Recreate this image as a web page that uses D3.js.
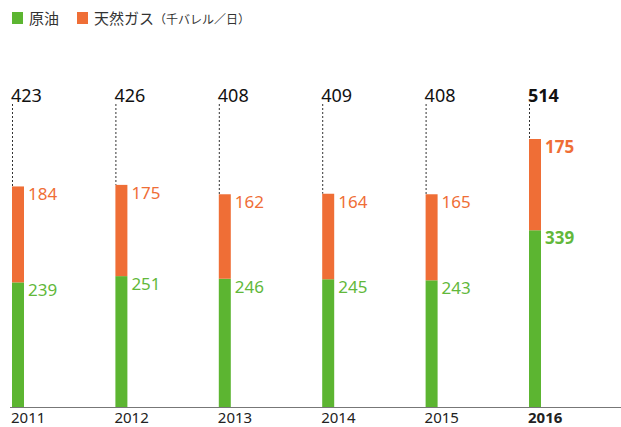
<!DOCTYPE html>
<html>
<head>
<meta charset="utf-8">
<script src="https://d3js.org/d3.v7.min.js"></script>
<style>
  body { margin: 0; background: #fff; }
  svg { display: block; }
</style>
</head>
<body>
<svg></svg>
<script>
// 年ごとの生産量（千バレル／日）
const years = ['2011', '2012', '2013', '2014', '2015', '2016'];
const oil = [239, 251, 246, 245, 243, 339];
const gas = [184, 175, 162, 164, 165, 175];
const totals = [423, 426, 408, 409, 408, 514];
const legendNames = ['原油', '天然ガス'];

const width = 621;
const height = 427;
const base = 407;
const green = '#5cb531';
const orange = '#ef6e36';
const numFont = '"Noto Sans", sans-serif';

const svg = d3.select('svg').attr('width', width).attr('height', height);

const x = d3.scaleBand().domain(years).range([12, 541]).paddingInner(0.884).paddingOuter(0);
const y = d3.scaleLinear().domain([0, 514]).range([base, 139]);

const rows = years.map((yr, i) => ({ yr, oil: oil[i], gas: gas[i], total: totals[i], last: i === years.length - 1 }));

// 凡例
const legend = svg.append('g').attr('font-family', '"Noto Sans CJK JP", sans-serif');
legend.append('rect').attr('x', 12).attr('y', 12).attr('width', 11).attr('height', 12).attr('fill', green);
legend.append('text').attr('x', 29).attr('y', 24).attr('font-size', 15).attr('fill', '#333').text(legendNames[0]);
legend.append('rect').attr('x', 77).attr('y', 12).attr('width', 11).attr('height', 12).attr('fill', orange);
const lt = legend.append('text').attr('x', 94).attr('y', 24).attr('font-size', 15).attr('fill', '#333');
lt.append('tspan').text(legendNames[1]);
lt.append('tspan').attr('font-size', 12).text('（千バレル／日）');

// 点線
svg.append('g').selectAll('line').data(rows).join('line')
  .attr('x1', d => x(d.yr) + 0.5).attr('x2', d => x(d.yr) + 0.5)
  .attr('y1', 104).attr('y2', d => y(d.total))
  .attr('stroke', '#333').attr('stroke-width', 1).attr('stroke-dasharray', '2,2');

// 棒
const bars = svg.append('g');
bars.selectAll('.oil').data(rows).join('rect').attr('class', 'oil')
  .attr('x', d => x(d.yr)).attr('width', x.bandwidth())
  .attr('y', d => y(d.oil)).attr('height', d => base - y(d.oil))
  .attr('fill', green);
bars.selectAll('.gas').data(rows).join('rect').attr('class', 'gas')
  .attr('x', d => x(d.yr)).attr('width', x.bandwidth())
  .attr('y', d => y(d.total)).attr('height', d => y(d.oil) - y(d.total))
  .attr('fill', orange);

// 軸線
svg.append('line').attr('x1', 10).attr('x2', width).attr('y1', base + 0.5).attr('y2', base + 0.5)
  .attr('stroke', '#777').attr('stroke-width', 1);

// ラベル
const labels = svg.append('g').attr('font-family', numFont);
labels.selectAll('.tot').data(rows).join('text')
  .attr('x', d => x(d.yr) - 1).attr('y', 102)
  .attr('font-size', 18).attr('fill', '#111')
  .attr('font-weight', d => d.last ? 'bold' : 'normal')
  .text(d => d.total);
labels.selectAll('.gl').data(rows).join('text')
  .attr('x', d => x(d.yr) + x.bandwidth() + 4).attr('y', d => y(d.total) + 14)
  .attr('font-size', 17).attr('fill', orange)
  .attr('font-weight', d => d.last ? 'bold' : 'normal')
  .text(d => d.gas);
labels.selectAll('.ol').data(rows).join('text')
  .attr('x', d => x(d.yr) + x.bandwidth() + 4).attr('y', d => y(d.oil) + 14)
  .attr('font-size', 17).attr('fill', '#62b83a')
  .attr('font-weight', d => d.last ? 'bold' : 'normal')
  .text(d => d.oil);
labels.selectAll('.yr').data(rows).join('text')
  .attr('x', d => x(d.yr) - 1).attr('y', 423)
  .attr('font-size', 15).attr('fill', '#222')
  .attr('font-weight', d => d.last ? 'bold' : 'normal')
  .text(d => d.yr);
</script>
</body>
</html>
